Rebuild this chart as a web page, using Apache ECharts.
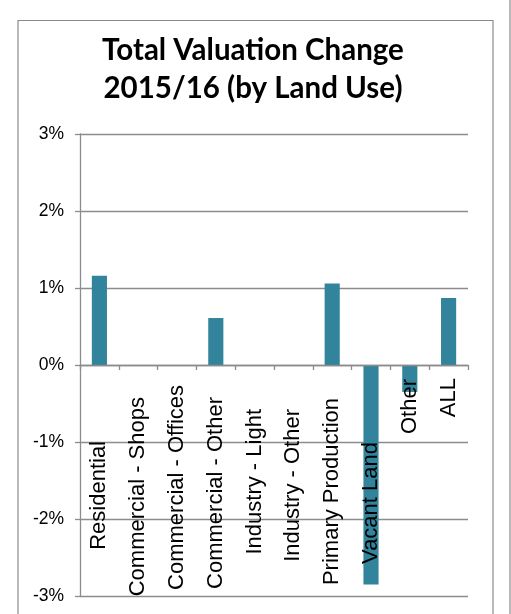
<!DOCTYPE html>
<html>
<head>
<meta charset="utf-8">
<script src="https://cdn.jsdelivr.net/npm/echarts@6/dist/echarts.min.js"></script>
<style>
html,body{margin:0;padding:0;background:#fff;}
#chart{width:511px;height:614px;}
</style>
</head>
<body>
<div id="chart"></div>
<script>
const titleText = 'Total Valuation Change\n2015/16 (by Land Use)';
const categories = ['Residential','Commercial - Shops','Commercial - Offices','Commercial - Other','Industry - Light','Industry - Other','Primary Production','Vacant Land','Other','ALL'];
const values = [1.16, 0, 0, 0.61, 0, 0, 1.06, -2.85, -0.35, 0.87];
const yTicks = {min: -3, max: 3, interval: 1};
// distance of each rotated label's end from the zero line (px)
const labelOffsets = [76, 32, 20, 32, 44, 44, 33, 77, 14, 13];

const rich = {};
labelOffsets.forEach((p, i) => {
  rich['l' + i] = {fontFamily: '"Liberation Sans", Arial, sans-serif', fontSize: 22, color: '#000', padding: [0, p, 0, 0]};
});

const gridTop = 134, gridBottom = 18, chartH = 614;
// labels stay at the grid bottom in this version; shift them up to the zero line
const plotH = chartH - gridTop - gridBottom;
const zeroShift = -plotH * (yTicks.max / (yTicks.max - yTicks.min));

const chart = echarts.init(document.getElementById('chart'));
chart.setOption({
  animation: false,
  backgroundColor: '#fff',
  graphic: [
    {type: 'rect', shape: {x: 18, y: 20.5, width: 475, height: 640}, style: {fill: 'none', stroke: '#8a8a8a', lineWidth: 1.2}, silent: true},
    {type: 'line', shape: {x1: 510, y1: 0, x2: 510, y2: 614}, style: {stroke: '#8a8a8a', lineWidth: 1.2}, silent: true}
  ],
  title: {
    text: titleText,
    left: 248,
    top: 27,
    textAlign: 'center',
    textStyle: {fontFamily: 'Lato, "Open Sans", sans-serif', fontWeight: 'bold', fontSize: 29.5, lineHeight: 37.5, color: '#000'}
  },
  grid: {left: 80, right: 43, top: gridTop, bottom: gridBottom, containLabel: false, outerBoundsMode: 'none'},
  xAxis: {
    type: 'category',
    data: categories,
    z: 10,
    axisLine: {onZero: true, lineStyle: {color: '#8c8c8c', width: 1.3}},
    axisTick: {show: true, alignWithLabel: false, length: 5, lineStyle: {color: '#8c8c8c', width: 1.3}},
    axisLabel: {
      rotate: 90,
      interval: 0,
      margin: zeroShift,
      hideOverlap: false,
      formatter: (v, i) => '{l' + i + '|' + v + '}',
      rich: rich
    },
    splitLine: {show: false}
  },
  yAxis: {
    type: 'value',
    min: yTicks.min,
    max: yTicks.max,
    interval: yTicks.interval,
    axisLine: {show: true, lineStyle: {color: '#8c8c8c', width: 1.3}},
    axisTick: {show: true, length: 5, lineStyle: {color: '#8c8c8c', width: 1.3}},
    axisLabel: {formatter: '{value}%', margin: 16, fontFamily: '"Liberation Sans", Arial, sans-serif', fontSize: 17.5, color: '#000'},
    splitLine: {show: true, lineStyle: {color: '#8c8c8c', width: 1.3}}
  },
  series: [{
    type: 'bar',
    data: values,
    barWidth: '39%',
    itemStyle: {color: '#31849B'}
  }]
});
</script>
</body>
</html>
